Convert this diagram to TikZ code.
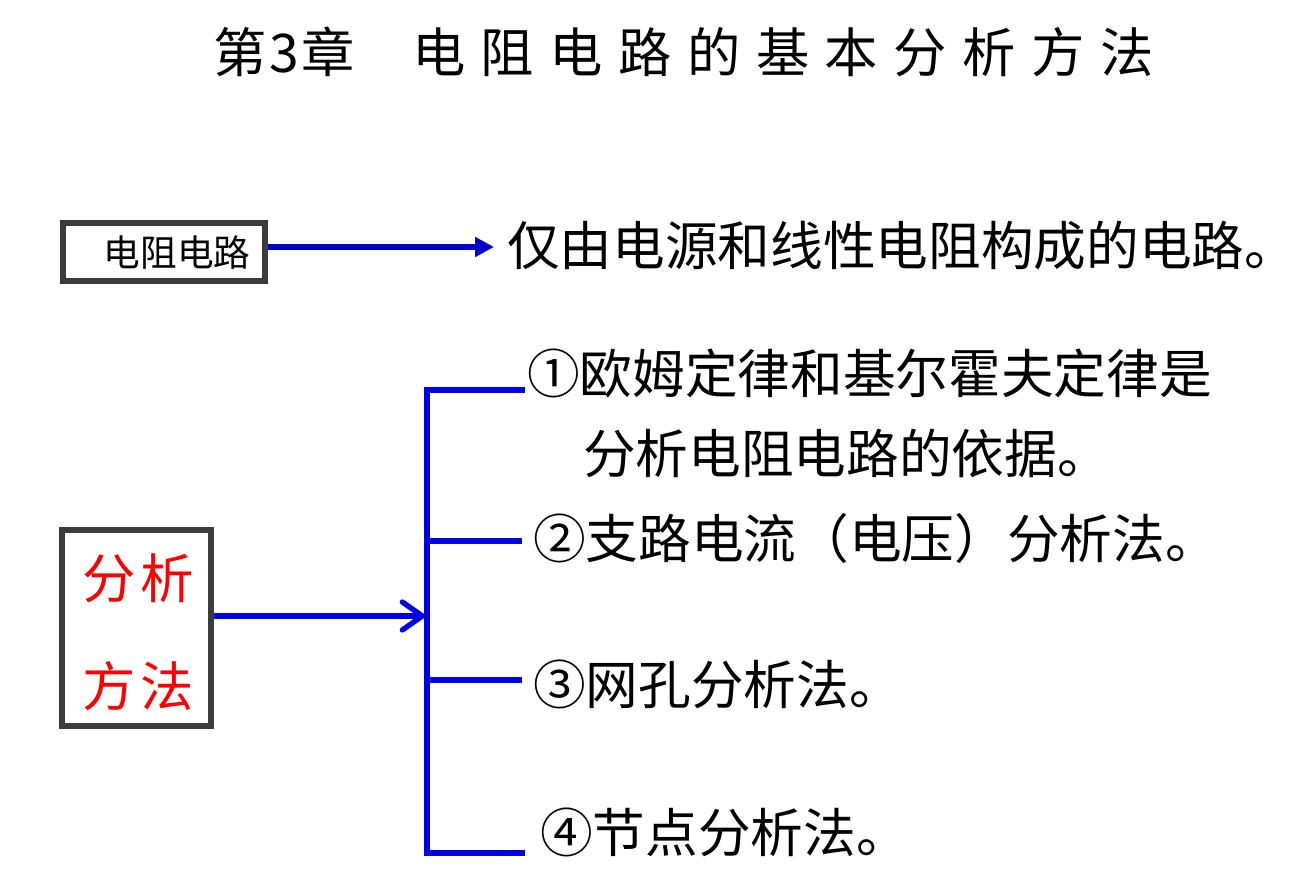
\documentclass[tikz,border=0pt]{standalone}
\usepackage{fontspec}
\newfontfamily\cjk{Noto Sans CJK SC}
\usetikzlibrary{arrows.meta}
\definecolor{boxgray}{RGB}{60,60,60}
\definecolor{darkblue}{RGB}{0,0,204}
\definecolor{brightblue}{RGB}{0,0,230}
\definecolor{redtxt}{RGB}{255,0,0}
\tikzset{
  txt/.style={anchor=west, inner sep=0pt, font=\cjk\fontsize{39.5pt}{41pt}\selectfont, text=black},
  framebox/.style={draw=boxgray, line width=4.5pt, fill=white, inner sep=0pt},
  redline/.style={inner sep=0pt, text=redtxt, font=\cjk\fontsize{40pt}{42pt}\addfontfeature{LetterSpace=10}\selectfont},
  conn/.style={line width=4pt},
}
\begin{document}
\begin{tikzpicture}[x=0.75pt,y=-0.75pt]
\useasboundingbox[fill=white] (0,0) rectangle (1293,896);
% title
\node[anchor=west, inner sep=0pt, font=\cjk\fontsize{40pt}{42pt}\selectfont] (title) at (213,52) {{\addfontfeature{LetterSpace=5}第3章}\hspace{43pt}{\addfontfeature{LetterSpace=29}电阻电路的基本分析方法}};
% box 1
\node[framebox, minimum width=202*0.75pt, minimum height=58*0.75pt] (box1) at (164,252) {};
\node[inner sep=0pt, font=\cjk\fontsize{27.5pt}{29pt}\selectfont] (box1txt) at (177,253) {电阻电路};
\node[txt] (def) at (507,246) {仅由电源和线性电阻构成的电路。};
\coordinate (a1s) at (box1.east |- 0,247);
\coordinate (a1e) at (494,247);
\draw[conn, darkblue, -{Triangle[length=19pt*0.75, width=19pt*0.75]}] (a1s) -- (a1e);
% box 2
\node[framebox, minimum width=149*0.75pt, minimum height=196*0.75pt] (box2) at (136.5,627.5) {};
\node[redline] (l1) at (138,578) {分析};
\node[redline] (l2) at (138,686) {方法};
% bracket
\coordinate (btop) at (427,390);
\coordinate (bbot) at (427,853);
\coordinate (bmid) at (427,616);
\coordinate (e1) at (522,390);
\coordinate (e2) at (522,541);
\coordinate (e3) at (522,680);
\coordinate (e4) at (522,853);
\coordinate (b2) at (427,541);
\coordinate (b3) at (427,680);
\draw[conn, brightblue, line cap=rect] (e1) -- (btop) -- (bbot) -- (e4);
\draw[conn, brightblue] (b2) -- (e2);
\draw[conn, brightblue] (b3) -- (e3);
\draw[conn, brightblue, -{Straight Barb[length=20pt*0.75, width=28pt*0.75, line cap=round]}] (box2.east |- bmid) -- (bmid);
% items
\node[txt] (i1) at (527,373) {①欧姆定律和基尔霍夫定律是};
\node[txt] (i1b) at (583,453) {分析电阻电路的依据。};
\node[txt] (i2) at (533,538) {②支路电流（电压）分析法。};
\node[txt] (i3) at (533,684) {③网孔分析法。};
\node[txt] (i4) at (540,832) {④节点分析法。};
\end{tikzpicture}
\end{document}
